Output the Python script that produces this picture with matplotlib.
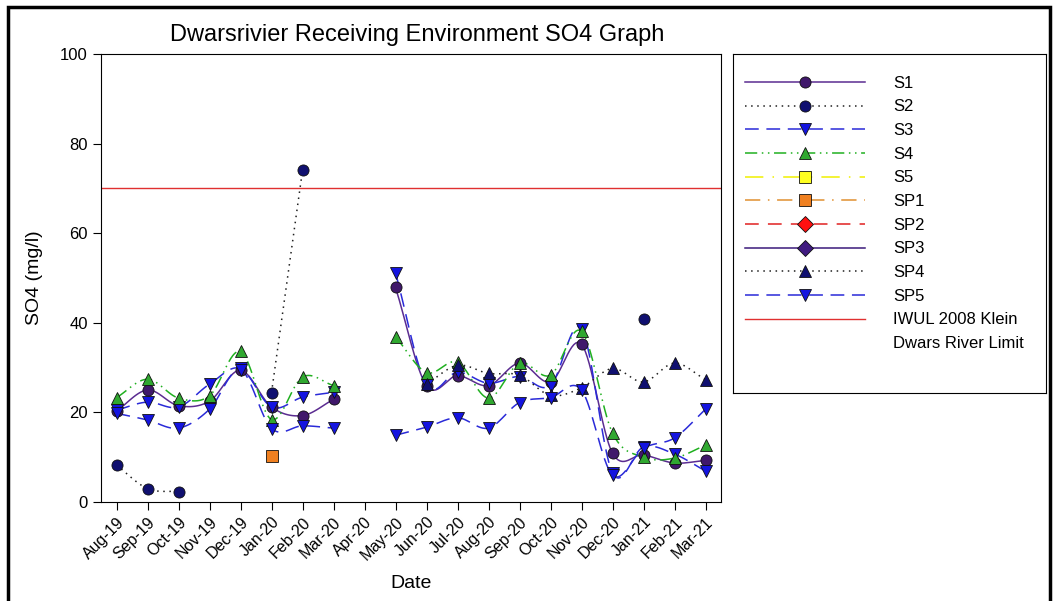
import numpy as np
import matplotlib
matplotlib.use("Agg")
import matplotlib.pyplot as plt
from matplotlib.lines import Line2D
from matplotlib.patches import Rectangle

plt.rcParams['font.family'] = ['Liberation Sans', 'DejaVu Sans']

nan = np.nan
months = ['Aug-19', 'Sep-19', 'Oct-19', 'Nov-19', 'Dec-19', 'Jan-20', 'Feb-20', 'Mar-20',
          'Apr-20', 'May-20', 'Jun-20', 'Jul-20', 'Aug-20', 'Sep-20', 'Oct-20', 'Nov-20',
          'Dec-20', 'Jan-21', 'Feb-21', 'Mar-21']

s1 = [20.3, 25.0, 21.5, 22.5, 29.4, 21.2, 19.3, 22.9, nan, 47.9, 26.0, 28.2, 26.0, 31.0, 26.8, 35.2, 10.9, 10.5, 8.7, 9.3]
s2 = [8.2, 3.0, 2.3, nan, nan, 24.4, 74.0, nan, nan, nan, nan, nan, nan, nan, nan, nan, nan, 40.8, nan, nan]
s3 = [20.5, 22.3, 21.2, 26.3, 29.8, 21.2, 23.4, 24.5, nan, 51.2, 26.2, 29.0, 26.5, 28.0, 26.0, 38.7, 6.5, 12.3, 10.7, 6.9]
s4 = [23.3, 27.4, 23.2, 23.7, 33.6, 18.4, 27.9, 26.0, nan, 36.9, 28.9, 31.2, 23.2, 31.0, 28.3, 38.1, 15.4, 10.0, 9.8, 12.7]
s5 = [nan] * 20
sp1 = [nan, nan, nan, nan, nan, 10.2, nan, nan, nan, nan, nan, nan, nan, nan, nan, nan, nan, nan, nan, nan]
sp2 = [nan] * 20
sp3 = [nan] * 20
sp4 = [nan, nan, nan, nan, nan, nan, nan, nan, nan, nan, 26.3, 30.5, 28.7, 28.3, 23.8, 25.5, 29.8, 26.8, 31.0, 27.3]
sp5 = [19.8, 18.3, 16.5, 20.7, 29.5, 16.4, 17.0, 16.5, nan, 14.9, 16.7, 18.8, 16.5, 22.2, 23.3, 25.0, 6.0, 12.0, 14.3, 20.7]
limit = 70

# name, values, line colour, linestyle, marker, marker face
series = [
    ('S1', s1, '#5b2c91', '-', 'o', '#40186b'),
    ('S2', s2, '#202020', (0, (1, 3)), 'o', '#101070'),
    ('S3', s3, '#2a2ad8', (0, (9, 5)), 'v', '#1414e0'),
    ('S4', s4, '#20b020', (0, (8, 3, 1, 3, 1, 3)), '^', '#30a830'),
    ('S5', s5, '#f0f000', (0, (12, 6, 1, 6)), 's', '#ffff20'),
    ('SP1', sp1, '#e09030', (0, (10, 5, 1, 5)), 's', '#f08020'),
    ('SP2', sp2, '#e02020', (0, (9, 6)), 'D', '#ff1010'),
    ('SP3', sp3, '#3a1a7a', '-', 'D', '#401a80'),
    ('SP4', sp4, '#202020', (0, (1, 3)), '^', '#101070'),
    ('SP5', sp5, '#2a2ad8', (0, (9, 5)), 'v', '#1414e0'),
]


def smooth(x, y, n=16):
    # catmull-rom curve through the points
    x = np.asarray(x, float)
    y = np.asarray(y, float)
    if len(x) < 2:
        return x, y
    px = np.concatenate([[2 * x[0] - x[1]], x, [2 * x[-1] - x[-2]]])
    py = np.concatenate([[2 * y[0] - y[1]], y, [2 * y[-1] - y[-2]]])
    xs, ys = [], []
    t = np.linspace(0, 1, n, endpoint=False)
    for i in range(1, len(px) - 2):
        for p, out in ((px, xs), (py, ys)):
            p0, p1, p2, p3 = p[i - 1], p[i], p[i + 1], p[i + 2]
            out.append(0.5 * (2 * p1 + (-p0 + p2) * t + (2 * p0 - 5 * p1 + 4 * p2 - p3) * t ** 2
                              + (-p0 + 3 * p1 - 3 * p2 + p3) * t ** 3))
    xs.append([x[-1]])
    ys.append([y[-1]])
    return np.concatenate(xs), np.concatenate(ys)


fig = plt.figure(figsize=(10.54, 6.01), dpi=100)
ax = fig.add_axes([101 / 1054, 99 / 601, 620 / 1054, 448 / 601])
xi = np.arange(len(months))

for name, vals, lc, ls, mk, mf in series:
    v = np.array(vals, float)
    ok = ~np.isnan(v)
    # split into runs of consecutive values
    idx = np.where(ok)[0]
    if len(idx) == 0:
        continue
    runs = np.split(idx, np.where(np.diff(idx) > 1)[0] + 1)
    for r in runs:
        if len(r) > 1:
            sx, sy = smooth(xi[r], v[r])
            ax.plot(sx, sy, color=lc, ls=ls, lw=1.1, zorder=2)
    ax.plot(xi[ok], v[ok], ls='none', marker=mk, ms=8, mfc=mf, mec='#101010', mew=0.6, zorder=3)

ax.axhline(limit, color='#e03030', lw=1, zorder=1)

ax.set_xlim(-0.5, 19.5)
ax.set_ylim(0, 100)
ax.set_xticks(xi)
ax.set_xticklabels(months, rotation=45, ha='right', rotation_mode='anchor', fontsize=11.5)
ax.set_yticks([0, 20, 40, 60, 80, 100])
ax.tick_params(axis='y', labelsize=12, direction='out', length=6)
ax.tick_params(axis='x', direction='out', length=6, pad=3)
ax.set_xlabel('Date', fontsize=14, labelpad=9)
ax.set_ylabel('SO4 (mg/l)', fontsize=14, labelpad=12)
ax.set_title('Dwarsrivier Receiving Environment SO4 Graph', fontsize=17, pad=9, x=0.51)

# legend in its own framed box
lax = fig.add_axes([733 / 1054, 208 / 601, 313 / 1054, 339 / 601])
lax.set_xticks([])
lax.set_yticks([])
handles = [Line2D([], [], color=lc, ls=ls, lw=1.1, marker=mk, ms=8, mfc=mf, mec='#101010', mew=0.6)
           for name, vals, lc, ls, mk, mf in series]
handles.append(Line2D([], [], color='#e03030', lw=1))
handles.append(Line2D([], [], color='none'))
labels = [s[0] for s in series] + ['IWUL 2008 Klein', 'Dwars River Limit']
lax.legend(handles, labels, loc='upper left', bbox_to_anchor=(0.0, 1 - 10 / 339), frameon=False,
           fontsize=12, handlelength=7.2, handletextpad=1.7, labelspacing=0.52, numpoints=1,
           borderaxespad=0.3)

fig.patches.append(Rectangle((8 / 1054, -0.01), 1 - 12 / 1054, 1 - 7 / 601 + 0.01,
                             transform=fig.transFigure, fill=False, ec='black', lw=2.5))

fig.savefig('out.png', dpi=100)
